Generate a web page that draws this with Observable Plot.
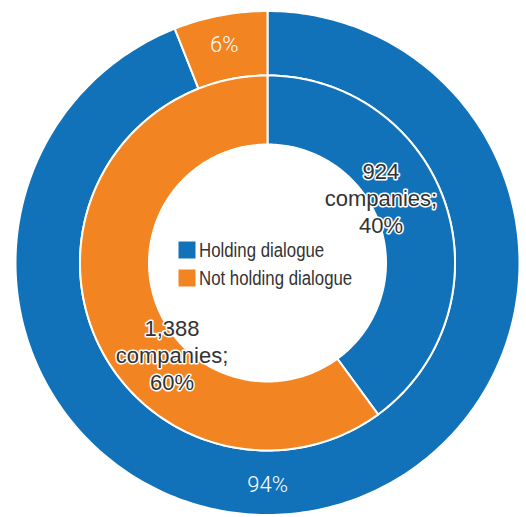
<!DOCTYPE html>
<html>
<head>
<meta charset="utf-8">
<script src="https://cdn.jsdelivr.net/npm/d3@7"></script>
<script src="https://cdn.jsdelivr.net/npm/@observablehq/plot@0.6"></script>
<style>
  html, body { margin: 0; padding: 0; background: #fff; }
  #chart svg { display: block; }
</style>
</head>
<body>
<div id="chart"></div>
<script>
// ---- Data ----
const categories = ["Holding dialogue", "Not holding dialogue"];
const colors = ["#1172BA", "#F38422"];
const outerPercents = [94, 6];
const outerLabels = ["94%", "6%"];
const innerCounts = [924, 1388];
const innerPercents = [40, 60];
const innerLabels = ["924\ncompanies;\n40%", "1,388\ncompanies;\n60%"];

// ---- Geometry (ring radii as fraction of outer radius) ----
const W = 526, H = 517;
const R = 252, cx = 267, cy = 262.5;
const rings = {
  outer: {r0: 187.5 / R, r1: 1},
  inner: {r0: 118.5 / R, r1: 187.5 / R}
};

function slices(values, ring, ringName) {
  const total = d3.sum(values);
  let acc = 0;
  return values.map((v, i) => {
    const a0 = acc / total * 2 * Math.PI;
    acc += v;
    const a1 = acc / total * 2 * Math.PI;
    return {ring: ringName, cat: categories[i], a0, a1, r0: ring.r0, r1: ring.r1, i};
  });
}

function polygon(s) {
  const pts = [];
  const n = Math.max(2, Math.ceil((s.a1 - s.a0) / (Math.PI / 180)));
  for (let k = 0; k <= n; k++) {
    const a = s.a0 + (s.a1 - s.a0) * k / n;
    pts.push({x: s.r1 * Math.sin(a), y: s.r1 * Math.cos(a), id: s.ring + s.i, cat: s.cat});
  }
  for (let k = n; k >= 0; k--) {
    const a = s.a0 + (s.a1 - s.a0) * k / n;
    pts.push({x: s.r0 * Math.sin(a), y: s.r0 * Math.cos(a), id: s.ring + s.i, cat: s.cat});
  }
  pts.push({...pts[0]});
  return pts;
}

const outerSlices = slices(outerPercents, rings.outer, "outer");
const innerSlices = slices(innerCounts, rings.inner, "inner");
const allSlices = [...outerSlices, ...innerSlices];
const polyPts = allSlices.flatMap(polygon);

// label anchors at slice mid-angle
function anchor(s, rFrac) {
  const a = (s.a0 + s.a1) / 2;
  return {x: rFrac * Math.sin(a), y: rFrac * Math.cos(a)};
}
const outerText = outerSlices.map((s, i) => ({...anchor(s, (s.r0 + s.r1) / 2), text: outerLabels[i], i}));
const innerText = innerSlices.map((s, i) => ({...anchor(s, (s.r0 + s.r1) / 2), text: innerLabels[i], i}));

// pixel nudges (Excel-style label placement)
const outerNudge = [[-41, 6], [-2, -2]];
const innerNudge = [[-32, -18], [50, 44]];

const legendRows = categories.map((c, i) => ({cat: c, i}));

const xDomain = [-cx / R, (W - cx) / R];
const yDomain = [-(H - cy) / R, cy / R];

const font = "'Liberation Sans', Arial, Helvetica, sans-serif";

const outerMarks = outerText.map((d, i) => Plot.text([d], {
  x: "x", y: "y", text: "text",
  dx: outerNudge[i][0], dy: outerNudge[i][1],
  fill: "white", fontSize: 22, fontWeight: 300,
  fontFamily: "Roboto, " + font
}));
const innerMarks = innerText.map((d, i) => Plot.text([d], {
  x: "x", y: "y", text: "text",
  dx: innerNudge[i][0], dy: innerNudge[i][1],
  fill: "#333", stroke: "white", strokeWidth: 3, paintOrder: "stroke",
  fontSize: 22, lineHeight: 1.23
}));

const chart = Plot.plot({
  width: W,
  height: H,
  margin: 0,
  x: {domain: xDomain, axis: null},
  y: {domain: yDomain, axis: null},
  color: {domain: categories, range: colors},
  style: {fontFamily: font, background: "white"},
  marks: [
    Plot.line(polyPts, {
      x: "x", y: "y", z: "id", fill: "cat",
      stroke: "white", strokeWidth: 2, strokeLinejoin: "round", curve: "linear"
    }),
    ...outerMarks,
    ...innerMarks,
    // legend swatches
    Plot.dot(legendRows, {
      x: () => (186.5 - cx) / R,
      y: d => (cy - (249.5 + d.i * 28)) / R,
      fill: "cat", symbol: "square", r: 9.6
    }),
    Plot.text(legendRows, {
      x: () => (198.5 - cx) / R,
      y: d => (cy - (250.5 + d.i * 28)) / R,
      text: "cat", textAnchor: "start", fill: "#333",
      fontSize: 20, className: "legend-text"
    })
  ]
});

document.getElementById("chart").appendChild(chart);
// condense legend text horizontally (reference uses a narrow face)
chart.querySelectorAll(".legend-text text").forEach(t => {
  const w = t.getComputedTextLength();
  t.setAttribute("textLength", (w * 0.84).toFixed(1));
  t.setAttribute("lengthAdjust", "spacingAndGlyphs");
});
</script>
</body>
</html>
